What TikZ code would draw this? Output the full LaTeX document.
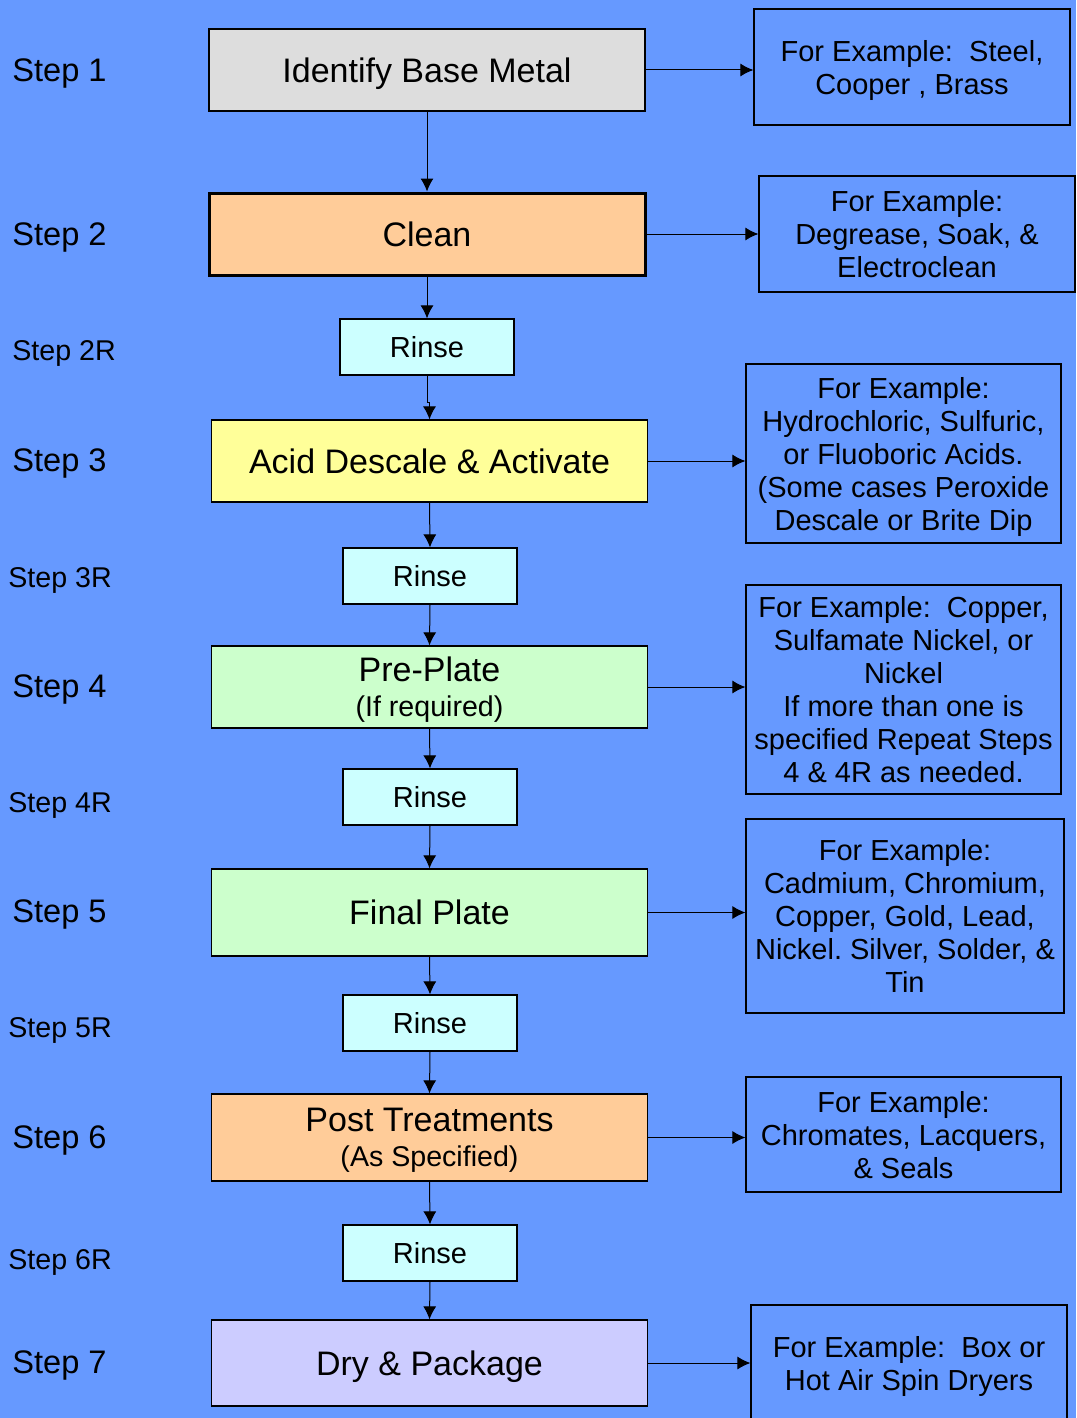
\documentclass[tikz,border=0pt]{standalone}
\usepackage{fontspec}
\setmainfont{Liberation Sans}
\frenchspacing
\usetikzlibrary{arrows.meta}
\definecolor{bgblue}{RGB}{102,153,255}
\definecolor{boxgray}{RGB}{221,221,221}
\definecolor{boxorange}{RGB}{255,204,153}
\definecolor{boxcyan}{RGB}{204,255,255}
\definecolor{boxyellow}{RGB}{255,255,153}
\definecolor{boxgreen}{RGB}{204,255,204}
\definecolor{boxlilac}{RGB}{204,204,255}
\tikzstyle{edge}=[draw=black, line width=0.5pt, -{Latex[length=6.5pt,width=6.5pt]}]
\tikzstyle{mainbox}=[draw=black, line width=0.6pt, minimum width=218pt, minimum height=41pt, inner sep=0pt, align=center, text depth=0pt, font=\fontsize{17}{18.5}\selectfont]
\tikzstyle{oneline}=[text height=12.2pt, text depth=0pt]
\tikzstyle{rinsebox}=[draw=black, line width=0.6pt, fill=boxcyan, minimum width=87pt, minimum height=28pt, inner sep=0pt, text height=10.4pt, text depth=0pt, font=\fontsize{14.5}{16}\selectfont]
\tikzstyle{notebox}=[draw=black, line width=0.6pt, minimum width=158pt, inner sep=0pt, align=center, text depth=0pt, font=\fontsize{14.5}{16.5}\selectfont]
\tikzstyle{steplabel}=[anchor=west, inner sep=0pt, text height=11.7pt, text depth=0pt, font=\fontsize{16.3}{18}\selectfont]
\tikzstyle{rsteplabel}=[anchor=west, inner sep=0pt, text height=10.3pt, text depth=0pt, font=\fontsize{14.3}{16}\selectfont]

\begin{document}
\begin{tikzpicture}[x=0.5pt,y=-0.5pt]
\useasboundingbox (0,0) rectangle (1076,1418);
\fill[bgblue] (0,0) rectangle (1076,1418);
\node[steplabel] (s1) at (12,70) {Step 1};
\node[steplabel] (s2) at (12,234) {Step 2};
\node[rsteplabel] (s2r) at (12,350) {Step 2R};
\node[steplabel] (s3) at (12,460) {Step 3};
\node[rsteplabel] (s3r) at (8,577) {Step 3R};
\node[steplabel] (s4) at (12,686) {Step 4};
\node[rsteplabel] (s4r) at (8,802) {Step 4R};
\node[steplabel] (s5) at (12,911) {Step 5};
\node[rsteplabel] (s5r) at (8,1027) {Step 5R};
\node[steplabel] (s6) at (12,1137) {Step 6};
\node[rsteplabel] (s6r) at (8,1259) {Step 6R};
\node[steplabel] (s7) at (12,1362) {Step 7};
\node[mainbox, oneline, fill=boxgray] (b1) at (427,70) {Identify Base Metal};
\node[mainbox, oneline, fill=boxorange, line width=1.5pt] (b2) at (427,234) {Clean};
\node[rinsebox] (r2) at (427,347) {Rinse};
\node[mainbox, oneline, fill=boxyellow] (b3) at (429.5,461) {Acid Descale \& Activate};
\node[rinsebox] (r3) at (430,576) {Rinse};
\node[mainbox, fill=boxgreen] (b4) at (429.5,687) {Pre-Plate\\[-1pt]{\fontsize{14.3}{16}\selectfont(If required)}};
\node[rinsebox] (r4) at (430,797) {Rinse};
\node[mainbox, oneline, fill=boxgreen, minimum height=43.5pt] (b5) at (429.5,912.5) {Final Plate};
\node[rinsebox] (r5) at (430,1023) {Rinse};
\node[mainbox, fill=boxorange, minimum height=43.5pt] (b6) at (429.5,1137.5) {Post Treatments\\[-1pt]{\fontsize{14.3}{16}\selectfont(As Specified)}};
\node[rinsebox] (r6) at (430,1253) {Rinse};
\node[mainbox, oneline, fill=boxlilac, minimum height=43pt] (b7) at (429.5,1363) {Dry \& Package};
\node[notebox, minimum height=58pt] (n1) at (912,67) {For Example:\ \ Steel,\\Cooper , Brass};
\node[notebox, minimum height=58pt] (n2) at (917,234) {For Example:\\Degrease, Soak, \&\\Electroclean};
\node[notebox, minimum width=157.5pt, minimum height=89.5pt] (n3) at (903.5,453.5) {For Example:\\Hydrochloric, Sulfuric,\\or Fluoboric Acids.\\(Some cases Peroxide\\Descale or Brite Dip};
\node[notebox, minimum width=157.5pt, minimum height=104.5pt] (n4) at (903.5,689.5) {For Example:\ \ Copper,\\Sulfamate Nickel, or\\Nickel\\If more than one is\\specified Repeat Steps\\4 \& 4R as needed.};
\node[notebox, minimum width=159pt, minimum height=97pt] (n5) at (905,916) {For Example:\\Cadmium, Chromium,\\Copper, Gold, Lead,\\Nickel. Silver, Solder, \&\\Tin};
\node[notebox, minimum width=157.5pt, minimum height=57.5pt] (n6) at (903.5,1134.5) {For Example:\\Chromates, Lacquers,\\\& Seals};
\node[notebox, minimum height=58pt] (n7) at (909,1363) {For Example:\ \ Box or\\Hot Air Spin Dryers};
\draw[edge] (b1.south) -- (b2.north);
\draw[edge] (b2.south) -- (r2.north);
\draw[edge] (r2.south) -- ++(0,27) -| (b3.north);
\draw[edge] (b3.south) -- (r3.north);
\draw[edge] (r3.south) -- (b4.north);
\draw[edge] (b4.south) -- (r4.north);
\draw[edge] (r4.south) -- (b5.north);
\draw[edge] (b5.south) -- (r5.north);
\draw[edge] (r5.south) -- (b6.north);
\draw[edge] (b6.south) -- (r6.north);
\draw[edge] (r6.south) -- (b7.north);
\draw[edge] (b1.east) -- (b1.east -| n1.west);
\draw[edge] (b2.east) -- (b2.east -| n2.west);
\draw[edge] (b3.east) -- (b3.east -| n3.west);
\draw[edge] (b4.east) -- (b4.east -| n4.west);
\draw[edge] (b5.east) -- (b5.east -| n5.west);
\draw[edge] (b6.east) -- (b6.east -| n6.west);
\draw[edge] (b7.east) -- (b7.east -| n7.west);
\end{tikzpicture}
\end{document}
